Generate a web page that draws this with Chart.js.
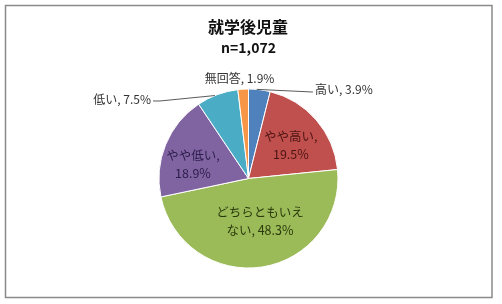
<!DOCTYPE html>
<html>
<head>
<meta charset="utf-8">
<script src="https://cdn.jsdelivr.net/npm/chart.js@4/dist/chart.umd.min.js"></script>
<style>
html,body{margin:0;padding:0;background:#fff;}
canvas{display:block;}
</style>
</head>
<body>
<canvas id="c" width="502" height="304"></canvas>
<script>
const titleLines = ['就学後児童', 'n=1,072'];
const categories = ['高い', 'やや高い', 'どちらともいえない', 'やや低い', '低い', '無回答'];
const values = [3.9, 19.5, 48.3, 18.9, 7.5, 1.9];
const colors = ['#4F81BD', '#C0504D', '#9BBB59', '#8064A2', '#4BACC6', '#F79646'];
// how each category name is wrapped inside its label
const nameWrap = [null, null, ['どちらともいえ', 'ない'], null, null, null];

const FONT = "'Noto Sans CJK JP', 'Noto Sans', sans-serif";

// label placement (relative to pie geometry, r units)
const labelSpec = [
  {mode: 'out', da: -1.8, tx: 0.743, ty: -0.994, align: 'left', path: [[0.72, -0.966]]},
  {mode: 'in', da: 2.9, f: 0.60, color: '#4a1412'},
  {mode: 'in', da: -6.3, f: 0.49, color: '#2b3a0c'},
  {mode: 'in', da: -8.1, f: 0.64, color: '#2c1d4a'},
  {mode: 'out', da: -1.7, tx: -1.089, ty: -0.888, align: 'right', path: [[-0.989, -0.866], [-1.067, -0.866]]},
  {mode: 'top', da: -1.7, f: 1.123, color: '#333'}
];

function labelLines(i) {
  const pct = values[i].toFixed(1) + '%';
  if (nameWrap[i]) {
    const w = nameWrap[i];
    return [w[0], w[1] + ', ' + pct];
  }
  return null;
}

const labelPlugin = {
  id: 'labels',
  afterDatasetsDraw(chart) {
    const ctx = chart.ctx;
    const meta = chart.getDatasetMeta(0);
    ctx.save();
    ctx.textBaseline = 'middle';
    meta.data.forEach((arc, i) => {
      const p = arc.getProps(['x', 'y', 'startAngle', 'endAngle', 'outerRadius'], true);
      const cx = p.x, cy = p.y, r = p.outerRadius;
      const spec = labelSpec[i];
      const mid = (p.startAngle + p.endAngle) / 2 + spec.da * Math.PI / 180;
      const pct = values[i].toFixed(1) + '%';
      if (spec.mode === 'in') {
        const x = cx + Math.cos(mid) * r * spec.f;
        const y = cy + Math.sin(mid) * r * spec.f;
        const lines = labelLines(i) || [categories[i] + ',', pct];
        ctx.fillStyle = spec.color;
        ctx.textAlign = 'center';
        ctx.font = "12.5px " + FONT;
        const lh = 18;
        lines.forEach((ln, k) => {
          ctx.fillText(ln, x, y + (k - (lines.length - 1) / 2) * lh);
        });
      } else if (spec.mode === 'top') {
        const x = cx + Math.cos(mid) * r * spec.f;
        const y = cy + Math.sin(mid) * r * spec.f;
        ctx.fillStyle = spec.color;
        ctx.textAlign = 'center';
        ctx.font = "12px " + FONT;
        ctx.fillText(categories[i] + ', ' + pct, x, y);
      } else {
        const sx = cx + Math.cos(mid) * r;
        const sy = cy + Math.sin(mid) * r;
        ctx.strokeStyle = '#5a5a5a';
        ctx.lineWidth = 1;
        ctx.beginPath();
        ctx.moveTo(sx, sy);
        spec.path.forEach(pt => ctx.lineTo(cx + pt[0] * r, cy + pt[1] * r));
        ctx.stroke();
        ctx.fillStyle = '#333';
        ctx.textAlign = spec.align;
        ctx.font = "12px " + FONT;
        ctx.fillText(categories[i] + ', ' + pct, cx + spec.tx * r, cy + spec.ty * r);
      }
    });
    ctx.restore();
  },
  afterDraw(chart) {
    const ctx = chart.ctx;
    ctx.save();
    ctx.fillStyle = '#111';
    ctx.textAlign = 'center';
    ctx.textBaseline = 'middle';
    ctx.font = "bold 16px " + FONT;
    ctx.fillText(titleLines[0], 248, 27);
    ctx.font = "bold 14px " + FONT;
    ctx.fillText(titleLines[1], 248.5, 48);
    ctx.strokeStyle = '#8a8a8a';
    ctx.lineWidth = 1.5;
    ctx.strokeRect(5.5, 5.5, 486.5, 292);
    ctx.restore();
  }
};

new Chart(document.getElementById('c'), {
  type: 'pie',
  data: {
    labels: categories,
    datasets: [{
      data: values,
      backgroundColor: colors,
      borderColor: '#ffffff',
      borderWidth: 1,
      hoverOffset: 0,
      offset: 0
    }]
  },
  options: {
    responsive: false,
    animation: false,
    events: [],
    layout: {padding: {top: 88.5, bottom: 35.5, left: 100, right: 105}},
    plugins: {legend: {display: false}, tooltip: {enabled: false}, title: {display: false}}
  },
  plugins: [labelPlugin]
});
</script>
</body>
</html>
